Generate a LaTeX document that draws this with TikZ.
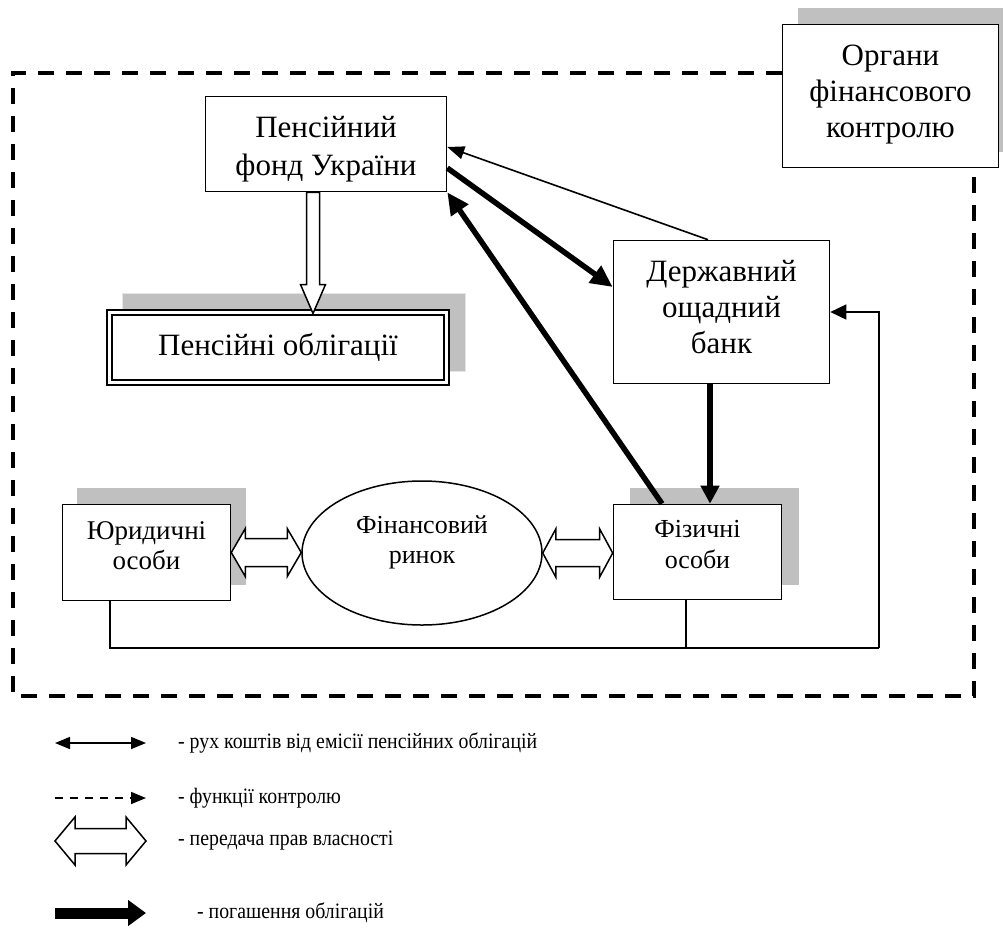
\documentclass[tikz,border=0pt]{standalone}
\usepackage{fontspec}
\setmainfont{Liberation Serif}
\newfontfamily\legfont[FakeStretch=0.9]{Liberation Serif}
\usetikzlibrary{arrows.meta,shapes.geometric,calc}
\definecolor{shadowgrey}{RGB}{192,192,192}
\newcommand{\HollowH}[5]{%
  \draw[hollowarr] let \p1=#1, \p2=#2 in
    (\x1,\y1) -- (\x1+#5,\y1+#4) -- (\x1+#5,\y1+#3) -- (\x2-#5,\y1+#3) --
    (\x2-#5,\y1+#4) -- (\x2,\y1) -- (\x2-#5,\y1-#4) -- (\x2-#5,\y1-#3) --
    (\x1+#5,\y1-#3) -- (\x1+#5,\y1-#4) -- cycle;}
\begin{document}
\begin{tikzpicture}[x=1pt,y=-1pt,
  box/.style={draw,line width=1.6pt,fill=white,inner sep=0pt},
  lbl/.style={inner sep=0pt,align=center},
  bigtext/.style={font=\fontsize{31}{36}\selectfont},
  midtext/.style={font=\fontsize{27}{30}\selectfont},
  legtext/.style={font=\legfont\fontsize{22}{25}\selectfont,anchor=west,inner sep=0pt},
  thinarr/.style={line width=1.6pt,-{Triangle[length=17pt,width=13pt]}},
  thickarr/.style={line width=5.5pt,-{Triangle[length=22pt,width=20pt]}},
  plainline/.style={line width=1.6pt},
  ctrl/.style={line width=4pt,dash pattern=on 16pt off 12pt},
  hollowarr/.style={line width=1.5pt,fill=white,line join=miter}
]
\useasboundingbox (0,0) rectangle (1004,927);

% shadows
\fill[shadowgrey] (798,8) rectangle (1003,152);
\fill[shadowgrey] (122,293) rectangle (465,371);
\draw[gray!20,line width=1pt] (122,293) rectangle (465,371);
\fill[shadowgrey] (77,488) rectangle (246,585);
\fill[shadowgrey] (630,488) rectangle (799,585);

% boxes
\node[box,minimum width=216pt,minimum height=143pt] (org) at (890.5,96) {};
\node[lbl,bigtext] (orgT) at ([yshift=1.5pt]org.center) {Органи\\фінансового\\контролю};
\node[box,minimum width=241pt,minimum height=95pt] (pf) at (326,144) {};
\node[lbl,bigtext,font=\fontsize{31}{38}\selectfont] (pfT) at ([yshift=-5pt]pf.center) {Пенсійний\\фонд України};
\node[draw,line width=2pt,double=white,double distance=2.5pt,fill=white,
  inner sep=0pt,minimum width=337pt,minimum height=70pt] (pens) at (278,347.5) {};
\node[lbl,bigtext] (pensT) at (pens.center) {Пенсійні облігації};
\node[box,minimum width=216pt,minimum height=143pt] (bank) at (721.5,312) {};
\node[lbl,bigtext] (bankT) at ([yshift=5pt]bank.center) {Державний\\ощадний\\банк};
\node[box,minimum width=168pt,minimum height=96pt] (jur) at (146.5,552.5) {};
\node[lbl,midtext] (jurT) at ([yshift=7pt]jur.center) {Юридичні\\особи};
\node[box,minimum width=168pt,minimum height=95pt] (phys) at (697.5,552) {};
\node[lbl,font=\fontsize{26}{31}\selectfont] (physT) at ([yshift=7.5pt]phys.center) {Фізичні\\особи};
\node[draw,ellipse,line width=1.5pt,fill=white,inner sep=0pt,
  minimum width=240pt,minimum height=144pt] (market) at (422,553) {};
\node[lbl,font=\fontsize{26}{30}\selectfont] (marketT) at ([yshift=11pt]market.center) {Фінансовий\\ринок};

% control (dashed) frame
\coordinate (dTL) at (13,73);
\coordinate (dBL) at (13,696);
\coordinate (dBR) at (974,696);
\draw[ctrl] (org.west |- dTL) -- (dTL) -- (dBL) -- (dBR) -- (dBR |- org.south);

% arrows between pension fund and bank
\draw[thinarr] ([xshift=-13.5pt]bank.north) -- ([yshift=-3pt]pf.east);
\draw[thickarr] ([yshift=-24pt]pf.east) -- ([yshift=25pt]bank.west);
\draw[thickarr] ([xshift=-35.5pt]phys.north) -- (pf.south east);
\coordinate (b1) at ([xshift=-11.5pt]bank.south);
\draw[line width=5.5pt,-{Triangle[length=18pt,width=18pt]}] (b1) -- (b1 |- phys.north);

% hollow arrow pension fund -> bonds
\coordinate (hA) at ([xshift=-13pt]pf.south);
\coordinate (hB) at ([yshift=-2pt]hA |- pens.north);
\draw[hollowarr] let \p1=(hA), \p2=(hB) in
  (\x1-6.5pt,\y1) -- (\x1-6.5pt,\y2+29pt) -- (\x1-12.5pt,\y2+29pt) -- (\x2,\y2) --
  (\x1+12.5pt,\y2+29pt) -- (\x1+6.5pt,\y2+29pt) -- (\x1+6.5pt,\y1) -- cycle;

% hollow double arrows (property rights)
\HollowH{(jur.east)}{(market.west)}{14pt}{24pt}{14pt}
\HollowH{(market.east)}{(phys.west)}{13.5pt}{24pt}{13pt}

% money flow loop
\coordinate (j1) at ([xshift=-36.5pt]jur.south);
\coordinate (p1) at ([xshift=-11.5pt]phys.south);
\coordinate (rc) at (879,648);
\draw[plainline] (j1) |- (rc);
\draw[plainline] (p1) -- (p1 |- rc);
\draw[plainline,-{Triangle[length=16pt,width=15pt]}] (rc) |- (bank.east);

% legend
\coordinate (l1a) at (55,743); \coordinate (l1b) at (146,743);
\draw[line width=1.6pt,{Triangle[length=15pt,width=12pt]}-{Triangle[length=15pt,width=12pt]}] (l1a) -- (l1b);
\node[legtext] (t1) at (178,743) {- рух коштів від емісії пенсійних облігацій};

\coordinate (l2a) at (55,798); \coordinate (l2b) at (146,798);
\draw[line width=1.6pt,dash pattern=on 8pt off 7pt,-{Triangle[length=15pt,width=12pt]}] (l2a) -- (l2b);
\node[legtext] (t2) at (178,798) {- функції контролю};

\coordinate (l3a) at (55,841); \coordinate (l3b) at (146,841);
\HollowH{(l3a)}{(l3b)}{12.5pt}{24pt}{20pt}
\node[legtext] (t3) at (178,841) {- передача прав власності};

\coordinate (l4a) at (55,913); \coordinate (l4b) at (146,913);
\draw[line width=11pt,-{Triangle[length=18pt,width=25pt]}] (l4a) -- (l4b);
\node[legtext] (t4) at (197,913) {- погашення облігацій};
\end{tikzpicture}
\end{document}
